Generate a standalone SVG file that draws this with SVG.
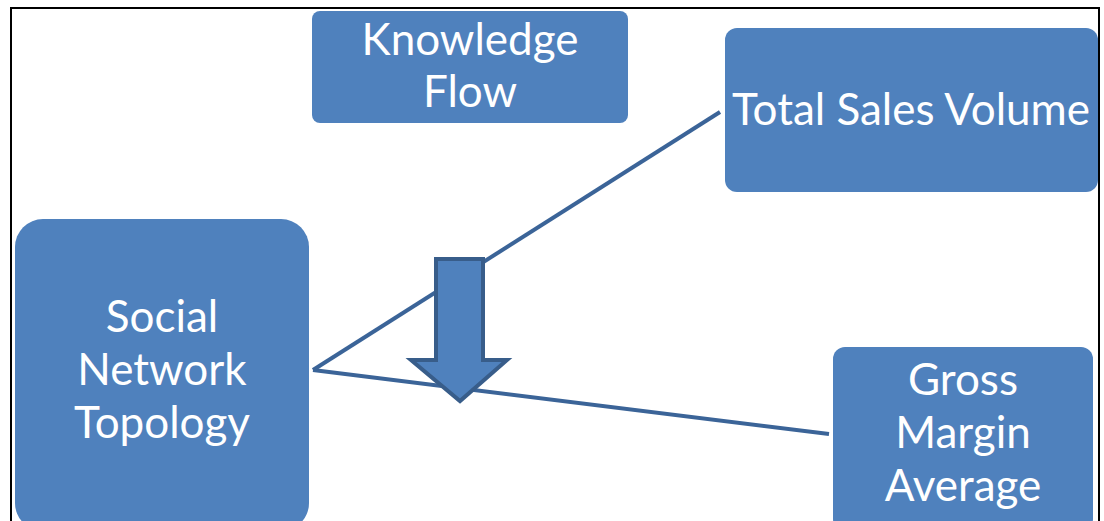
<svg xmlns="http://www.w3.org/2000/svg" width="1104" height="521" viewBox="0 0 1104 521">
  <style>
    .box { fill: #4f81bd; }
    .lbl { fill: #ffffff; font-family: Lato, "Liberation Sans", sans-serif; font-size: 44px; text-anchor: middle; }
    .link { stroke: #3b6498; stroke-width: 4; fill: none; }
    .frame { fill: #ffffff; stroke: #000000; stroke-width: 2; }
  </style>
  <rect class="frame" x="11" y="8" width="1088" height="520"/>

  <g id="connectors">
    <line class="link" x1="313" y1="370" x2="720" y2="112"/>
    <line class="link" x1="313" y1="370" x2="829" y2="434"/>
  </g>

  <g id="knowledge-flow">
    <rect class="box" x="312" y="11" width="316" height="112" rx="8"/>
    <text class="lbl" x="470" y="55">Knowledge</text>
    <text class="lbl" x="470" y="107">Flow</text>
  </g>

  <g id="total-sales-volume">
    <rect class="box" x="725" y="28" width="373" height="164" rx="12"/>
    <text class="lbl" x="911" y="125">Total Sales Volume</text>
  </g>

  <g id="social-network-topology">
    <rect class="box" x="15" y="219" width="294" height="312" rx="28"/>
    <text class="lbl" x="162" y="332">Social</text>
    <text class="lbl" x="162" y="385">Network</text>
    <text class="lbl" x="162" y="438">Topology</text>
  </g>

  <g id="gross-margin-average">
    <rect class="box" x="833" y="347" width="260" height="184" rx="12"/>
    <text class="lbl" x="963" y="395">Gross</text>
    <text class="lbl" x="963" y="448">Margin</text>
    <text class="lbl" x="963" y="501">Average</text>
  </g>

  <g id="flow-arrow">
    <path d="M436 259 H483 V360 H507 L460 401 L411 360 H436 Z" fill="#4f81bd" stroke="#385d8a" stroke-width="4" stroke-linejoin="miter"/>
  </g>
</svg>
